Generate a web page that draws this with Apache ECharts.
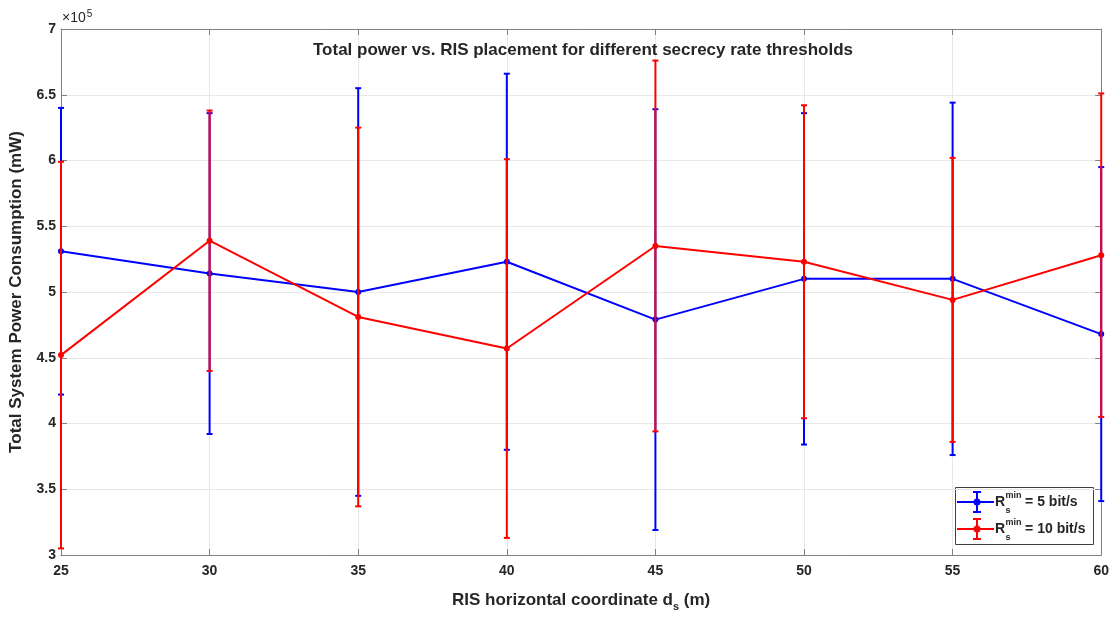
<!DOCTYPE html>
<html>
<head>
<meta charset="utf-8">
<script src="https://cdn.jsdelivr.net/npm/echarts@6/dist/echarts.min.js"></script>
<style>
  html, body { margin: 0; padding: 0; background: #fff; }
  #chart { width: 1112px; height: 617px; }
</style>
</head>
<body>
<div id="chart"></div>
<script>
// RIS horizontal coordinate d_s (m)
const xs = [25, 30, 35, 40, 45, 50, 55, 60]
// total power in units of 1e5 mW, mean and half-width of the error bar
const blueMean = [5.31, 5.14, 5.00, 5.23, 4.79, 5.10, 5.10, 4.68]
const blueErr = [1.09, 1.22, 1.55, 1.43, 1.60, 1.26, 1.34, 1.27]
const redMean = [4.52, 5.39, 4.81, 4.57, 5.35, 5.23, 4.94, 5.28]
const redErr = [1.47, 0.99, 1.44, 1.44, 1.41, 1.19, 1.08, 1.23]
const xTicks = ['25', '30', '35', '40', '45', '50', '55', '60']
const yTicks = ['3', '3.5', '4', '4.5', '5', '5.5', '6', '6.5', '7']

const FONT = '"Liberation Sans", Arial, Helvetica, sans-serif'
const BLUE = '#0000ff'
const RED = '#ff0000'
const TXT = '#262626'

const chart = echarts.init(document.getElementById('chart'))

const ctx = document.createElement('canvas').getContext('2d')
function textWidth(str, size, weight) {
  ctx.font = `${weight || 'bold'} ${size}px ${FONT}`
  return ctx.measureText(str).width
}

function errorBars(name, mean, err, color, z) {
  return {
    type: 'custom',
    name: name,
    z: z,
    data: xs.map((x, i) => [x, mean[i] - err[i], mean[i] + err[i]]),
    encode: { x: 0, y: [1, 2] },
    renderItem: (params, api) => {
      const lo = api.coord([api.value(0), api.value(1)])
      const hi = api.coord([api.value(0), api.value(2)])
      const w = 3
      const style = { stroke: color, lineWidth: 2 }
      return {
        type: 'group',
        children: [
          { type: 'line', shape: { x1: lo[0], y1: lo[1], x2: hi[0], y2: hi[1] }, style },
          { type: 'line', shape: { x1: hi[0] - w, y1: hi[1], x2: hi[0] + w, y2: hi[1] }, style },
          { type: 'line', shape: { x1: lo[0] - w, y1: lo[1], x2: lo[0] + w, y2: lo[1] }, style },
        ],
      }
    },
  }
}

function meanLine(name, mean, color, z) {
  return {
    type: 'line',
    name: name,
    z: z,
    data: xs.map((x, i) => [x, mean[i]]),
    symbol: 'circle',
    symbolSize: 6,
    showSymbol: true,
    itemStyle: { color: color },
    lineStyle: { color: color, width: 2 },
  }
}

// legend drawn by hand, because of the stacked sub/superscript
function legendEntry(y, color, label) {
  const cx = 977
  const x0 = 995
  const wR = textWidth('R', 14)
  const wMin = textWidth('min', 9)
  const st = { stroke: color, lineWidth: 2 }
  return [
    { type: 'line', shape: { x1: 957, y1: y, x2: 994, y2: y }, style: st },
    { type: 'line', shape: { x1: cx, y1: y - 10, x2: cx, y2: y + 10 }, style: st },
    { type: 'line', shape: { x1: cx - 4, y1: y - 10, x2: cx + 4, y2: y - 10 }, style: st },
    { type: 'line', shape: { x1: cx - 4, y1: y + 10, x2: cx + 4, y2: y + 10 }, style: st },
    { type: 'circle', shape: { cx: cx, cy: y, r: 3.5 }, style: { fill: color } },
    { type: 'text', x: x0, y: y, style: { text: 'R', font: `bold 14px ${FONT}`, fill: TXT, verticalAlign: 'middle' } },
    { type: 'text', x: x0 + wR + 0.5, y: y - 6, style: { text: 'min', font: `bold 9px ${FONT}`, fill: TXT, verticalAlign: 'middle' } },
    { type: 'text', x: x0 + wR + 0.5, y: y + 9, style: { text: 's', font: `bold 9px ${FONT}`, fill: TXT, verticalAlign: 'middle' } },
    { type: 'text', x: x0 + wR + wMin + 4, y: y, style: { text: label, font: `bold 14px ${FONT}`, fill: TXT, verticalAlign: 'middle' } },
  ]
}

const axisLineStyle = { color: '#808080', width: 1 }

const option = {
  backgroundColor: '#fff',
  animation: false,
  textStyle: { fontFamily: FONT },
  title: {
    text: 'Total power vs. RIS placement for different secrecy rate thresholds',
    left: 578,
    top: 37,
    textAlign: 'center',
    textStyle: { fontFamily: FONT, fontSize: 17, fontWeight: 'bold', color: TXT },
  },
  grid: { left: 61, right: 8, top: 29, bottom: 55 },
  xAxis: [
    {
      type: 'value',
      min: 25,
      max: 60,
      interval: 5,
      name: 'RIS horizontal coordinate d{s|s} (m)',
      nameLocation: 'middle',
      nameGap: 33,
      nameTextStyle: {
        fontFamily: FONT, fontSize: 17, fontWeight: 'bold', color: TXT, lineHeight: 24,
        rich: { s: { fontFamily: FONT, fontSize: 11, fontWeight: 'bold', color: TXT, lineHeight: 12, verticalAlign: 'bottom' } },
      },
      axisLine: { lineStyle: axisLineStyle },
      axisTick: { inside: true, length: 6, lineStyle: axisLineStyle },
      axisLabel: { color: TXT, fontSize: 14, fontWeight: 'bold', margin: 9, formatter: v => xTicks[xs.indexOf(v)] },
      splitLine: { show: true, lineStyle: { color: '#e8e8e8', width: 1 } },
    },
    {
      type: 'value',
      position: 'top',
      min: 25,
      max: 60,
      interval: 5,
      axisLine: { show: true, onZero: false, lineStyle: axisLineStyle },
      axisTick: { inside: true, length: 6, lineStyle: axisLineStyle },
      axisLabel: { show: false },
      splitLine: { show: false },
    },
  ],
  yAxis: [
    {
      type: 'value',
      min: 3,
      max: 7,
      interval: 0.5,
      name: 'Total System Power Consumption (mW)',
      nameLocation: 'middle',
      nameGap: 36,
      nameTextStyle: { fontFamily: FONT, fontSize: 17, fontWeight: 'bold', color: TXT },
      axisLine: { show: true, lineStyle: axisLineStyle },
      axisTick: { show: true, inside: true, length: 6, lineStyle: axisLineStyle },
      axisLabel: { color: TXT, fontSize: 14, fontWeight: 'bold', margin: 5, formatter: v => yTicks[Math.round((v - 3) / 0.5)] },
      splitLine: { show: true, lineStyle: { color: '#e8e8e8', width: 1 } },
    },
    {
      type: 'value',
      position: 'right',
      min: 3,
      max: 7,
      interval: 0.5,
      axisLine: { show: true, onZero: false, lineStyle: axisLineStyle },
      axisTick: { show: true, inside: true, length: 6, lineStyle: axisLineStyle },
      axisLabel: { show: false },
      splitLine: { show: false },
    },
  ],
  series: [
    errorBars('R_s^min = 5 bit/s', blueMean, blueErr, BLUE, 2),
    meanLine('R_s^min = 5 bit/s', blueMean, BLUE, 3),
    errorBars('R_s^min = 10 bit/s', redMean, redErr, RED, 4),
    meanLine('R_s^min = 10 bit/s', redMean, RED, 5),
  ],
  graphic: [
    { type: 'text', x: 62, y: 25, style: { text: '\u00d710', font: `14px ${FONT}`, fill: TXT, verticalAlign: 'bottom' } },
    { type: 'text', x: 62 + textWidth('\u00d710', 14, 'normal') + 1, y: 19, style: { text: '5', font: `10px ${FONT}`, fill: TXT, verticalAlign: 'bottom' } },
    {
      type: 'group',
      z: 100,
      children: [
        { type: 'rect', shape: { x: 955.5, y: 487.5, width: 138, height: 57 }, style: { fill: '#fff', stroke: '#404040', lineWidth: 1 } },
        ...legendEntry(502, BLUE, '= 5 bit/s'),
        ...legendEntry(529, RED, '= 10 bit/s'),
      ],
    },
  ],
}

chart.setOption(option)
</script>
</body>
</html>
